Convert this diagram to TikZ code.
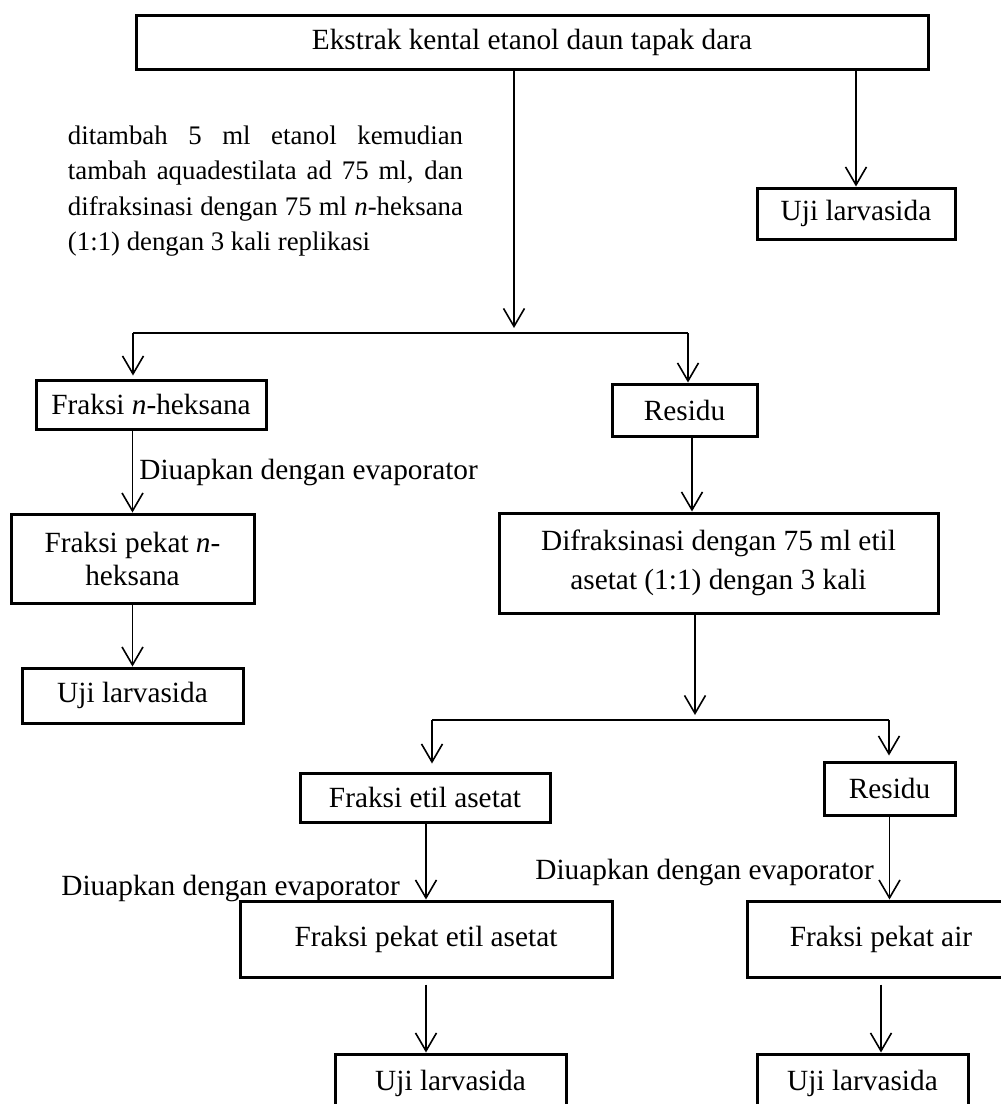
\documentclass[tikz,border=0pt]{standalone}
\usepackage{fontspec}
\setmainfont{Liberation Serif}
\usetikzlibrary{shapes,arrows,arrows.meta}
\tikzstyle{block} = [rectangle, draw, line width=1.5pt,
    align=center, inner sep=0pt]
\tikzstyle{note} = [inner sep=0pt, anchor=west]
\tikzstyle{line} = [draw, line width=0.8pt, -{Straight Barb[length=9pt,width=10.5pt]}]

\begin{document}
\begin{tikzpicture}[x=0.5pt, y=-0.5pt, font=\fontsize{14.65}{17.5}\selectfont]
    \useasboundingbox (0,0) rectangle (1001,1104);
    \clip (0,0) rectangle (1001,1104);
    % Place nodes
    \node [block, minimum width=396pt, minimum height=27pt] (ekstrak) at (532,42) {Ekstrak kental etanol daun tapak dara};
    \node [block, minimum width=99pt, minimum height=25.5pt] (uji0) at (856,213.5) {Uji larvasida};
    \node [inner sep=0pt, text width=197.5pt, align=justify, font=\fontsize{13.4}{17.8}\selectfont] (langkah) at (265.5,191)
        {\hyphenpenalty=10000\relax ditambah 5 ml etanol kemudian\linebreak tambah aquadestilata ad 75 ml, dan\linebreak difraksinasi dengan 75 ml \textit{n}-heksana\linebreak (1:1) dengan 3 kali replikasi};
    \node [block, minimum width=115pt, minimum height=24.5pt] (heksana) at (151,404.5) {Fraksi \textit{n}-heksana};
    \node [block, minimum width=72.5pt, minimum height=26pt] (residu1) at (684.5,410) {Residu};
    \node [note] (uap1) at (139,472) {Diuapkan dengan evaporator};
    \node [block, minimum width=121.5pt, minimum height=44.5pt, font=\fontsize{14.65}{16.5}\selectfont] (pekatheks) at (132.5,558.5) {Fraksi pekat \textit{n}-\\heksana};
    \node [block, minimum width=219.5pt, minimum height=50pt, font=\fontsize{14.65}{19.5}\selectfont] (etil) at (718.5,563) {Difraksinasi dengan 75 ml etil\\asetat (1:1) dengan 3 kali};
    \node [block, minimum width=110.5pt, minimum height=27.5pt] (uji1) at (132.5,695.5) {Uji larvasida};
    \node [block, minimum width=125pt, minimum height=24.5pt] (asetat) at (425,797.5) {Fraksi etil asetat};
    \node [block, minimum width=65.5pt, minimum height=26.5pt] (residu2) at (889.5,788.5) {Residu};
    \node [note] (uap2) at (61,888) {Diuapkan dengan evaporator};
    \node [note] (uap3) at (535,872) {Diuapkan dengan evaporator};
    \node [block, minimum width=186pt, minimum height=38pt] (pekatasetat) at (426,939) {Fraksi pekat etil asetat};
    \node [block, minimum width=134pt, minimum height=38pt] (pekatair) at (881,939) {Fraksi pekat air};
    \node [block, minimum width=115.5pt, minimum height=29pt] (uji2) at (450.5,1083) {Uji larvasida};
    \node [block, minimum width=105.5pt, minimum height=29pt] (uji3) at (862.5,1083) {Uji larvasida};
    % Branch points
    \coordinate (split1) at (514,333);
    \coordinate (split1l) at (133,333);
    \coordinate (split1r) at (688,333);
    \coordinate (drop1) at (692,0);
    \coordinate (split2) at (695,720);
    \coordinate (split2l) at (432,720);
    \coordinate (split2r) at (889,720);
    % Draw edges
    \path [line, shorten >=2.5pt] (ekstrak.south -| split1) -- (split1);
    \path [line] (ekstrak.south -| uji0.north) -- (uji0.north);
    \draw [line width=0.8pt] (split1l) -- (split1r);
    \path [line, shorten >=1.5pt] (split1l) -- (split1l |- heksana.north);
    \path [line] (split1r) -- (split1r |- residu1.north);
    \path [line] (heksana.south -| pekatheks.north) -- (pekatheks.north);
    \path [line] (pekatheks) -- (uji1);
    \path [line] (residu1.south -| drop1) -- (etil.north -| drop1);
    \path [line, shorten >=2.5pt] (etil.south -| split2) -- (split2);
    \draw [line width=0.8pt] (split2l) -- (split2r);
    \path [line, shorten >=4pt] (split2l) -- (split2l |- asetat.north);
    \path [line, shorten >=2.5pt] (split2r) -- (split2r |- residu2.north);
    \path [line] (asetat.south -| pekatasetat.north) -- (pekatasetat.north);
    \path [line] (residu2.south) -- (residu2.south |- pekatair.north);
    \path [line, shorten <=3pt] (pekatasetat.south) -- (pekatasetat.south |- uji2.north);
    \path [line, shorten <=3pt] (pekatair.south) -- (pekatair.south |- uji3.north);
\end{tikzpicture}
\end{document}
